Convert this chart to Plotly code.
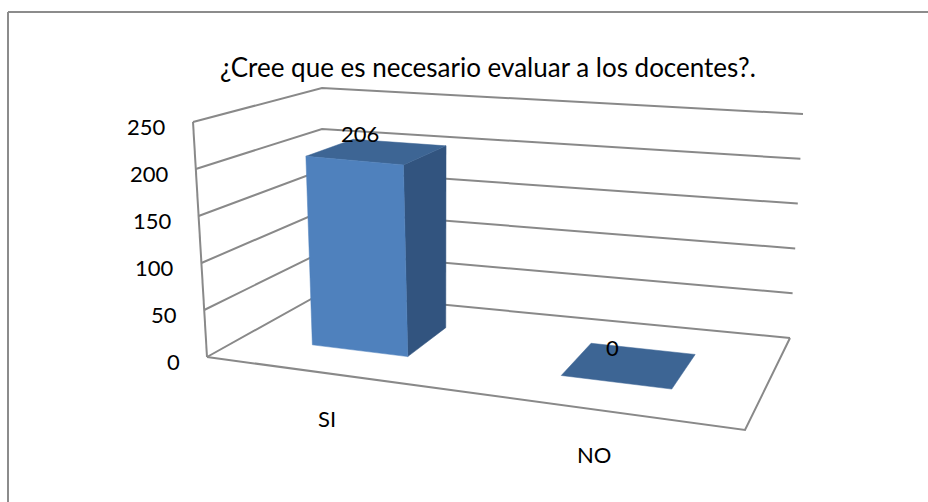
import numpy as np
import plotly.graph_objects as go

# ---------------- data ----------------
categories = ["SI", "NO"]
values = [206, 0]
y_ticks = [0, 50, 100, 150, 200, 250]
y_max = 250
title = "¿Cree que es necesario evaluar a los docentes?."

# ---------------- 3-D frame layout (pixel geometry of the box) ----------------
floor_src = [(0, 0), (1, 0), (1, 1), (0, 1)]
floor_dst = [(207, 357), (745, 430), (790, 338), (322, 293)]
rise = {(0, 0): (-14, -235), (0, 1): (0, -205), (1, 1): (13, -224)}
rise[(1, 0)] = (rise[(0, 0)][0] + rise[(1, 1)][0] - rise[(0, 1)][0],
                rise[(0, 0)][1] + rise[(1, 1)][1] - rise[(0, 1)][1])
persp = 0.63

bar_half_width = 0.1
depth_range = (0.3, 0.7)

W, HGT = 928, 502


def homography(src, dst):
    A, b = [], []
    for (u, w), (x, y) in zip(src, dst):
        A.append([u, w, 1, 0, 0, 0, -u * x, -w * x]); b.append(x)
        A.append([0, 0, 0, u, w, 1, -u * y, -w * y]); b.append(y)
    h = np.linalg.solve(np.array(A, float), np.array(b, float))
    return np.append(h, 1).reshape(3, 3)


H = homography(floor_src, floor_dst)


def bil(u, w, table):
    return ((1 - u) * (1 - w) * np.array(table[(0, 0)], float) + u * (1 - w) * np.array(table[(1, 0)], float)
            + (1 - u) * w * np.array(table[(0, 1)], float) + u * w * np.array(table[(1, 1)], float))


floor_tab = {s: d for s, d in zip(floor_src, floor_dst)}


def project(u, w, v):
    p = H @ np.array([u, w, 1.0])
    ph = p[:2] / p[2]
    pb = bil(u, w, floor_tab)
    base = persp * ph + (1 - persp) * pb
    d = bil(u, w, rise)
    f = v / y_max
    return float(base[0] + f * d[0]), float(base[1] + f * d[1])


def path(points):
    xs, ys = zip(*[project(*p) for p in points])
    return list(xs), list(ys)


GRID = "#898989"
FRONT = "#4F81BD"
TOP = "#3D6594"
SIDE = "#32547F"
FONT = "Lato"

fig = go.Figure()

for t in y_ticks:
    xs, ys = path([(0, 0, t), (0, 1, t), (1, 1, t)])
    fig.add_trace(go.Scatter(x=xs, y=ys, mode="lines",
                             line=dict(color=GRID, width=2), hoverinfo="skip"))
xs, ys = path([(0, 0, 0), (0, 0, y_max)])
fig.add_trace(go.Scatter(x=xs, y=ys, mode="lines", line=dict(color=GRID, width=2), hoverinfo="skip"))
xs, ys = path([(0, 0, 0), (1, 0, 0), (1, 1, 0)])
fig.add_trace(go.Scatter(x=xs, y=ys, mode="lines", line=dict(color=GRID, width=2), hoverinfo="skip"))

n = len(categories)
w0, w1 = depth_range
for i, (cat, val) in enumerate(zip(categories, values)):
    uc = (i + 0.5) / n
    u0, u1 = uc - bar_half_width, uc + bar_half_width
    faces = [
        ([(u1, w0, 0), (u1, w1, 0), (u1, w1, val), (u1, w0, val)], SIDE),
        ([(u0, w0, val), (u1, w0, val), (u1, w1, val), (u0, w1, val)], TOP),
        ([(u0, w0, 0), (u1, w0, 0), (u1, w0, val), (u0, w0, val)], FRONT),
    ]
    for pts, col in faces:
        if val == 0 and col != TOP:
            continue
        xs, ys = path(pts + [pts[0]])
        fig.add_trace(go.Scatter(x=xs, y=ys, mode="lines", fill="toself",
                                 fillcolor=col, line=dict(color=col, width=0.5),
                                 hoverinfo="skip"))
    lx, ly = project(uc, (w0 + w1) / 2, val)
    fig.add_annotation(x=lx - 17, y=ly - 18, text=str(val), showarrow=False,
                       font=dict(family=FONT, size=22, color="black"),
                       xanchor="center", yanchor="middle")
    cx, cy = project(uc, 0, 0)
    fig.add_annotation(x=cx, y=cy + 45, text=cat, showarrow=False,
                       font=dict(family=FONT, size=22, color="black"),
                       xanchor="center", yanchor="middle")

for t in y_ticks:
    tx, ty = project(0, 0, t)
    fig.add_annotation(x=tx - 25, y=ty + 4, text=str(t), showarrow=False,
                       font=dict(family=FONT, size=22, color="black"),
                       xanchor="right", yanchor="middle")

fig.add_annotation(x=488, y=67, text=title, showarrow=False,
                   font=dict(family=FONT, size=26, color="black"),
                   xanchor="center", yanchor="middle")

# chart-area border: left and top edges (the right/bottom edges lie outside the picture)
fig.add_shape(type="line", x0=8, y0=12, x1=8, y1=HGT + 20, xref="x", yref="y",
              line=dict(color="#8c8c8c", width=2), layer="below")
fig.add_shape(type="line", x0=8, y0=12, x1=W + 20, y1=12, xref="x", yref="y",
              line=dict(color="#8c8c8c", width=2), layer="below")

fig.update_layout(
    width=W, height=HGT,
    margin=dict(l=0, r=0, t=0, b=0, pad=0),
    paper_bgcolor="white", plot_bgcolor="white",
    showlegend=False,
    xaxis=dict(range=[0, W], visible=False, fixedrange=True, showline=False,
               showgrid=False, zeroline=False),
    yaxis=dict(range=[HGT, 0], visible=False, fixedrange=True, showline=False,
               showgrid=False, zeroline=False),
)

page_style = ("document.documentElement.style.overflow='hidden';"
              "document.body.style.margin='0';"
              "document.body.style.overflow='hidden';")
fig.write_html("out.html", config={"displayModeBar": False}, post_script=page_style)
